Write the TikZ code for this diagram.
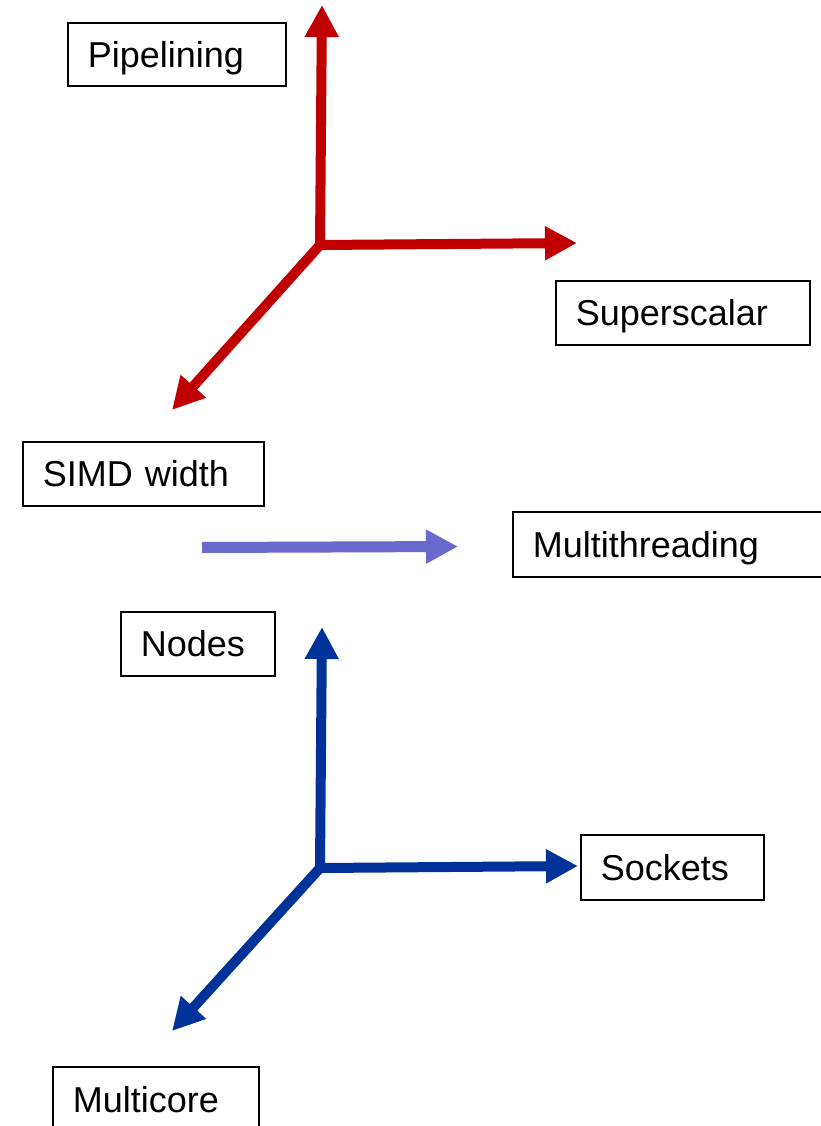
\documentclass[tikz,border=0pt]{standalone}
\usepackage{fontspec}
\setmainfont{Liberation Sans}
\usetikzlibrary{arrows.meta}
\definecolor{axred}{RGB}{192,0,0}
\definecolor{axblue}{RGB}{0,51,153}
\definecolor{axpurple}{RGB}{106,106,206}
\tikzset{
  lbl/.style={draw=black, line width=1.6pt, fill=white, anchor=north west,
    inner xsep=20pt, inner ysep=0pt, align=left,
    text height=25.8pt, text depth=0pt,
    font=\fontsize{36}{43}\selectfont},
  axis/.style={line width=10pt, -{Triangle[length=32pt,width=32pt]}}
}
\begin{document}
\begin{tikzpicture}[x=1pt,y=-1pt]
\useasboundingbox (0,0) rectangle (821,1126);
% labels
\node[lbl, text width=178pt, minimum height=63pt] (pipe) at (67,22) {Pipelining};
\node[lbl, text width=214pt, minimum height=64pt] (super) at (555,280) {Superscalar};
\node[lbl, text width=201pt, minimum height=64pt] (simd) at (22,441) {SIMD width};
\node[lbl, text width=272pt, minimum height=65pt] (mt) at (512,511) {Multithreading};
\node[lbl, text width=114pt, minimum height=64pt] (nodes) at (120,611) {Nodes};
\node[lbl, text width=143pt, minimum height=65pt] (sock) at (580,834) {Sockets};
\node[lbl, text width=166pt, minimum height=66pt] (mc) at (52,1066) {Multicore};
% red axes
\coordinate (rO) at (320,245);
\coordinate (rUp) at (322,5);
\coordinate (rRight) at (577,243);
\coordinate (rDiag) at (172,410);
\draw[axis, color=axred] (rO) -- (rUp);
\draw[axis, color=axred] (rO) -- (rRight);
\draw[axis, color=axred] (rO) -- (rDiag);
\fill[axred] (rO) circle (5pt);
% purple axis
\coordinate (pS) at (202,547.5);
\coordinate (pE) at (458,546.5);
\draw[axis, line width=11pt, color=axpurple] (pS) -- (pE);
% blue axes
\coordinate (bO) at (320,868);
\coordinate (bUp) at (322,627);
\coordinate (bRight) at (578,866);
\coordinate (bDiag) at (172,1031);
\draw[axis, color=axblue] (bO) -- (bUp);
\draw[axis, color=axblue] (bO) -- (bRight);
\draw[axis, color=axblue] (bO) -- (bDiag);
\fill[axblue] (bO) circle (5pt);
\end{tikzpicture}
\end{document}
